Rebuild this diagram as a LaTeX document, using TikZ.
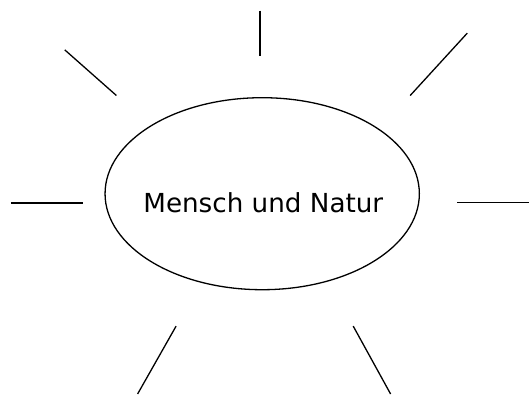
\documentclass[tikz,border=0pt]{standalone}
\usepackage{fontspec}
\setmainfont{DejaVu Sans}
\usetikzlibrary{shapes.geometric}
\begin{document}
\begin{tikzpicture}[x=1pt,y=-1pt,
  ray/.style={draw=black,line width=1.3pt},
  oval/.style={draw=black,line width=1.3pt,ellipse,minimum width=314.3pt,minimum height=192pt,inner sep=0pt}]
\useasboundingbox (0,0) rectangle (529,394);
\node[oval] (e) at (262.2,193.7) {};
\node[font=\fontsize{26.2}{30}\selectfont,anchor=base] (t) at (263.3,212) {Mensch und Natur};
\coordinate (t1) at (260,10.7); \coordinate (t2) at (260,56);
\coordinate (tl1) at (64.8,49.9); \coordinate (tl2) at (116.4,95.5);
\coordinate (tr1) at (467.3,33.1); \coordinate (tr2) at (410.2,95.5);
\coordinate (l1) at (10.8,203); \coordinate (l2) at (83,203);
\coordinate (r1) at (457.3,202.6); \coordinate (r2) at (529,202.6);
\coordinate (bl1) at (176.1,326.1); \coordinate (bl2) at (137.6,394);
\coordinate (br1) at (353.2,326.1); \coordinate (br2) at (390.6,394);
\draw[ray] (t1) -- (t2);
\draw[ray] (tl1) -- (tl2);
\draw[ray] (tr1) -- (tr2);
\draw[ray] (l1) -- (l2);
\draw[ray] (r1) -- (r2);
\draw[ray] (bl1) -- (bl2);
\draw[ray] (br1) -- (br2);
\end{tikzpicture}
\end{document}
